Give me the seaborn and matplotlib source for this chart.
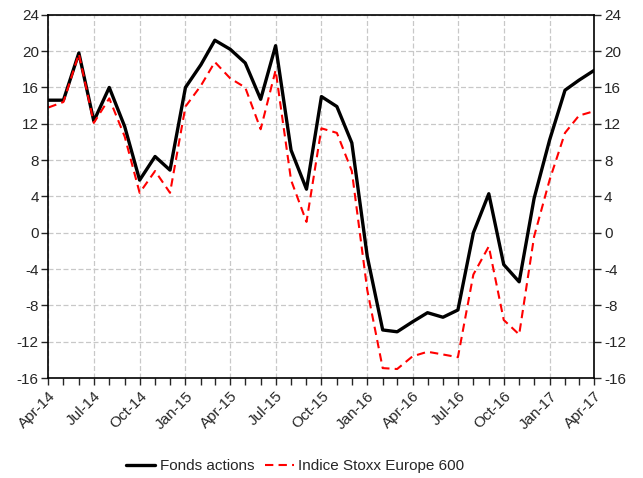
import pandas as pd
import numpy as np
import seaborn as sns
import matplotlib
matplotlib.use("Agg")
import matplotlib.pyplot as plt
import matplotlib.dates as mdates

sns.set_style("white")
plt.rcParams['font.family'] = ['Liberation Sans', 'DejaVu Sans']
plt.rcParams['axes.unicode_minus'] = False

# Monthly data, Apr-14 to Apr-17
months = pd.date_range("2014-04-01", "2017-04-01", freq="MS")
fonds_actions = [14.6, 14.6, 19.8, 12.3, 16.0, 11.7, 5.8, 8.4, 6.9, 16.0, 18.5, 21.2,
                 20.2, 18.7, 14.7, 20.6, 9.1, 4.8, 15.0, 13.9, 9.9, -2.6, -10.7, -10.9,
                 -9.8, -8.8, -9.3, -8.5, 0.0, 4.3, -3.5, -5.4, 3.8, 10.2, 15.7, 16.8, 17.9]
stoxx_600 = [13.8, 14.4, 19.7, 12.1, 14.8, 10.6, 4.4, 6.8, 4.4, 13.9, 16.2, 18.8,
             17.0, 16.0, 11.4, 17.9, 5.8, 1.2, 11.5, 11.0, 6.8, -6.3, -14.9, -15.0,
             -13.6, -13.1, -13.4, -13.7, -4.6, -1.5, -9.6, -11.2, -0.4, 5.8, 11.0, 12.9, 13.4]

df = pd.DataFrame({"date": months, "Fonds actions": fonds_actions,
                   "Indice Stoxx Europe 600": stoxx_600})

fig = plt.figure(figsize=(6.43, 4.78), dpi=100)
ax = fig.add_axes([0.0754, 0.209, 0.849, 0.760])

sns.lineplot(data=df, x="date", y="Fonds actions", ax=ax, color="black", lw=2.4,
             label="Fonds actions", legend=False)
sns.lineplot(data=df, x="date", y="Indice Stoxx Europe 600", ax=ax, color="red", lw=1.5,
             linestyle=(0, (4, 2.5)), label="Indice Stoxx Europe 600", legend=False)

ax.set_xlim(months[0], months[-1])
ax.set_ylim(-16, 24)
ax.set_yticks(np.arange(-16, 25, 4))
ax.xaxis.set_major_locator(mdates.MonthLocator(bymonth=[1, 4, 7, 10]))
ax.xaxis.set_minor_locator(mdates.MonthLocator())
ax.xaxis.set_major_formatter(mdates.DateFormatter("%b-%y"))
ax.set_xlabel("")
ax.set_ylabel("")

ax.grid(True, which="major", color="#c8c8c8", linestyle=(0, (4, 2)), lw=0.9)
ax.tick_params(axis="x", which="both", direction="out", bottom=True, length=5,
               width=1, labelsize=11, pad=3)
ax.tick_params(axis="y", direction="out", left=True, right=True, labelright=True,
               length=5, width=1, labelsize=11, pad=2)
for lbl in ax.get_xticklabels():
    lbl.set_rotation(45)
    lbl.set_ha("right")
    lbl.set_rotation_mode("anchor")
for s in ax.spines.values():
    s.set_color("black")
    s.set_linewidth(1.2)

handles, labels = ax.get_legend_handles_labels()
fig.legend(handles, labels, loc="center left", bbox_to_anchor=(0.196, 0.025), ncol=2,
           frameon=False, fontsize=11, handlelength=1.9, handletextpad=0.3,
           columnspacing=0.7, borderaxespad=0, borderpad=0)

fig.savefig("out.png", dpi=100)
